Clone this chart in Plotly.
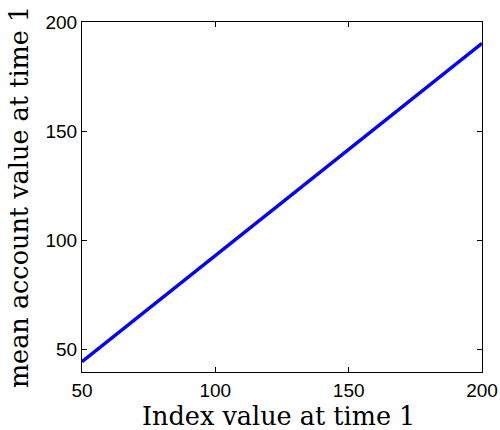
import plotly.graph_objects as go

index_values = [50, 100, 150, 200]
mean_account = [44.2, 92.9, 141.5, 190.2]
x_ticks = [50, 100, 150, 200]
y_ticks = [50, 100, 150, 200]

fig = go.Figure()
fig.add_trace(go.Scatter(x=index_values, y=mean_account, mode="lines",
                         line=dict(color="#0000ff", width=3.5)))

axis_common = dict(showgrid=False, zeroline=False, showline=True, mirror="ticks",
                   linecolor="black", linewidth=1, ticks="inside", ticklen=5,
                   tickcolor="black", automargin=False,
                   tickfont=dict(family="Liberation Sans", size=19, color="black"))
title_font = dict(family="DejaVu Serif", size=25.5, color="black")

fig.update_layout(
    width=500, height=430,
    margin=dict(l=82, r=18, t=22, b=58),
    paper_bgcolor="white", plot_bgcolor="white",
    showlegend=False,
    xaxis=dict(range=[50, 200], tickvals=x_ticks, ticklabelstandoff=1, **axis_common),
    yaxis=dict(range=[39.5, 200], tickvals=y_ticks,
               title=dict(text="mean account value at time 1", standoff=9, font=title_font),
               **axis_common),
    annotations=[dict(text="Index value at time 1", xref="paper", yref="paper",
                      x=0.491, y=-0.1745, xanchor="center", yanchor="bottom",
                      showarrow=False, font=title_font)],
)

fig.write_html("out.html")
